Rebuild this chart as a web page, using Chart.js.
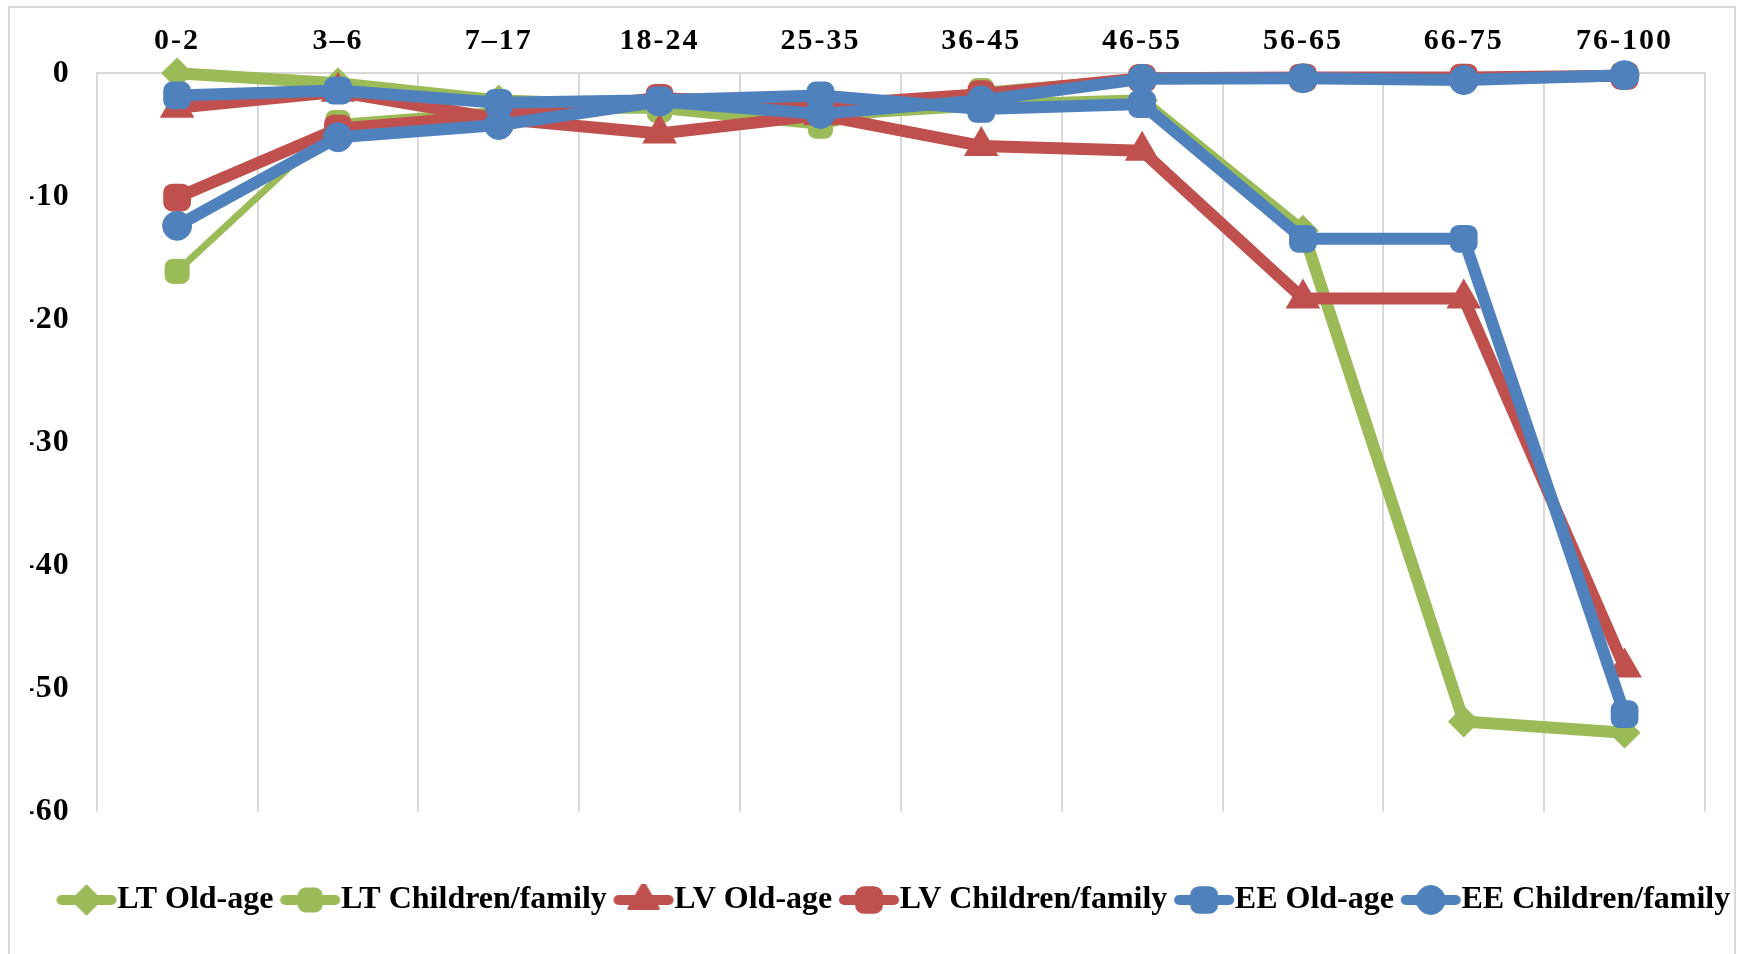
<!DOCTYPE html>
<html>
<head>
<meta charset="utf-8">
<script src="https://cdn.jsdelivr.net/npm/chart.js@4.4.1/dist/chart.umd.min.js"></script>
<style>
  html, body { margin: 0; padding: 0; background: #fff; }
  canvas { display: block; }
</style>
</head>
<body>
<canvas id="chart" width="1750" height="954"></canvas>
<script>
// Age groups shown along the top axis
const ageGroups = ['0-2', '3–6', '7–17', '18-24', '25-35', '36-45', '46-55', '56-65', '66-75', '76-100'];

// Series values per age group
const ltOldAge   = [0, -0.8, -2.2, -2.7, -3.4, -2.6, -2.2, -12.8, -52.7, -53.6];
const ltChildren = [-16.1, -4.0, -3.0, -3.0, -4.3, -1.4, -0.3, -0.5, -0.6, -0.2];
const lvOldAge   = [-2.8, -1.5, -3.7, -4.9, -3.4, -5.9, -6.3, -18.3, -18.3, -48.3];
const lvChildren = [-10.1, -4.5, -3.4, -2.0, -2.6, -1.7, -0.4, -0.35, -0.35, -0.2];
const eeOldAge   = [-1.8, -1.4, -2.4, -2.2, -1.8, -2.9, -2.5, -13.45, -13.45, -52.1];
const eeChildren = [-12.4, -5.2, -4.2, -2.3, -3.3, -2.2, -0.45, -0.4, -0.55, -0.15];

const seriesNames = ['LT Old-age', 'LT Children/family', 'LV Old-age', 'LV Children/family', 'EE Old-age', 'EE Children/family'];
const seriesValues = [ltOldAge, ltChildren, lvOldAge, lvChildren, eeOldAge, eeChildren];

// Value axis range
const yMin = -60;
const yMax = 0;
const yStep = 10;

const GREEN = '#9BBB59';
const RED = '#C0504D';
const BLUE = '#4F81BD';
const FONT = '"Liberation Serif", "Times New Roman", serif';

// Line and marker look for each series
const styles = [
  { color: GREEN, line: 12, point: 'rectRot',     radius: 14.5, bw: 2 },
  { color: GREEN, line: 7,  point: 'rectRounded', radius: 14,   bw: 1 },
  { color: RED,   line: 12, point: 'triangle',    radius: 17,   bw: 3 },
  { color: RED,   line: 12, point: 'rectRounded', radius: 15,   bw: 2 },
  { color: BLUE,  line: 12, point: 'rectRounded', radius: 15,   bw: 2 },
  { color: BLUE,  line: 12, point: 'circle',      radius: 14.5, bw: 1 }
];

// Legend symbol: a short line with the series marker in its middle
function legendSymbol(st) {
  const cv = document.createElement('canvas');
  cv.width = 100; cv.height = 44;
  const g = cv.getContext('2d');
  g.strokeStyle = st.color;
  g.fillStyle = st.color;
  g.lineWidth = 10;
  g.lineCap = 'round';
  g.beginPath();
  g.moveTo(36, 22);
  g.lineTo(86, 22);
  g.stroke();
  g.lineWidth = st.bw;
  g.lineJoin = 'round';
  if (Chart.helpers && Chart.helpers.drawPoint) {
    Chart.helpers.drawPoint(g, { pointStyle: st.point, radius: st.radius, rotation: 0, borderWidth: st.bw }, 61, 22);
  } else {
    g.beginPath();
    g.arc(61, 22, st.radius, 0, Math.PI * 2);
    g.fill();
  }
  return cv;
}
const legendSymbols = styles.map(legendSymbol);

const datasets = seriesNames.map((name, i) => ({
  label: name,
  data: seriesValues[i],
  borderColor: styles[i].color,
  backgroundColor: styles[i].color,
  borderWidth: styles[i].line,
  borderJoinStyle: 'round',
  borderCapStyle: 'round',
  tension: 0,
  fill: false,
  clip: false,
  pointStyle: styles[i].point,
  pointRadius: styles[i].radius,
  pointHoverRadius: styles[i].radius,
  pointBorderWidth: styles[i].bw,
  pointBackgroundColor: styles[i].color,
  pointBorderColor: styles[i].color,
  order: seriesNames.length - i
}));

// White background and light outer frame
const framePlugin = {
  id: 'frame',
  beforeDraw(chart) {
    const ctx = chart.ctx;
    ctx.save();
    ctx.fillStyle = '#fff';
    ctx.fillRect(0, 0, chart.width, chart.height);
    ctx.strokeStyle = '#d9d9d9';
    ctx.lineWidth = 2;
    ctx.strokeRect(9, 7, 1726, 960);
    ctx.restore();
  }
};

// Slightly expanded character spacing for the axis labels
const letterSpacing = { x: '2px', y: '1px' };
const spacedTicksPlugin = {
  id: 'spacedTicks',
  afterLayout(chart) {
    ['x', 'y'].forEach(id => {
      const sc = chart.scales[id];
      if (sc && !sc._spaced) {
        const base = Object.getPrototypeOf(sc).drawLabels;
        sc.drawLabels = function (area) {
          const c = this.ctx;
          c.save();
          c.letterSpacing = letterSpacing[id];
          base.call(this, area);
          c.restore();
        };
        sc._spaced = true;
      }
    });
  }
};

new Chart(document.getElementById('chart'), {
  type: 'line',
  data: { labels: ageGroups, datasets },
  options: {
    responsive: false,
    animation: false,
    devicePixelRatio: 1,
    layout: { padding: { left: 30, right: 0, top: 0, bottom: 28 } },
    scales: {
      x: {
        type: 'category',
        position: 'top',
        offset: true,
        grid: { display: true, offset: true, color: '#d9d9d9', lineWidth: 2, drawTicks: false },
        border: { display: true, color: '#d9d9d9', width: 2 },
        ticks: { autoSkip: false, maxRotation: 0, minRotation: 0, padding: 14, color: '#000',
                 font: { family: FONT, size: 30, weight: 'bold' } },
        afterFit: s => { s.height = 73.3; }
      },
      y: {
        position: 'left',
        min: yMin,
        max: yMax,
        grid: { display: false, drawTicks: false },
        border: { display: false },
        ticks: { stepSize: yStep, padding: 27, color: '#000',
                 font: { family: FONT, size: 32, weight: 'bold' }, callback: v => String(v) },
        afterFit: s => { s.width = 66.7; }
      },
      xGap: {
        type: 'category',
        position: 'bottom',
        display: true,
        grid: { display: false, drawTicks: false },
        border: { display: false },
        ticks: { display: false },
        afterFit: s => { s.height = 72.6; }
      },
      yGap: {
        type: 'linear',
        position: 'right',
        display: true,
        grid: { display: false, drawTicks: false },
        border: { display: false },
        ticks: { display: false },
        afterFit: s => { s.width = 45; }
      }
    },
    plugins: {
      tooltip: { enabled: false },
      legend: {
        position: 'bottom',
        labels: {
          usePointStyle: true,
          pointStyleWidth: 51.5,
          boxHeight: 32,
          padding: 0,
          color: '#000',
          font: { family: FONT, size: 32, weight: 'bold' },
          generateLabels: chart => chart.data.datasets.map((ds, i) => ({
            text: ds.label,
            pointStyle: legendSymbols[i],
            datasetIndex: i,
            hidden: false,
            lineWidth: 0,
            fillStyle: ds.borderColor,
            strokeStyle: ds.borderColor,
            fontColor: '#000'
          }))
        }
      }
    }
  },
  plugins: [framePlugin, spacedTicksPlugin]
});
</script>
</body>
</html>
